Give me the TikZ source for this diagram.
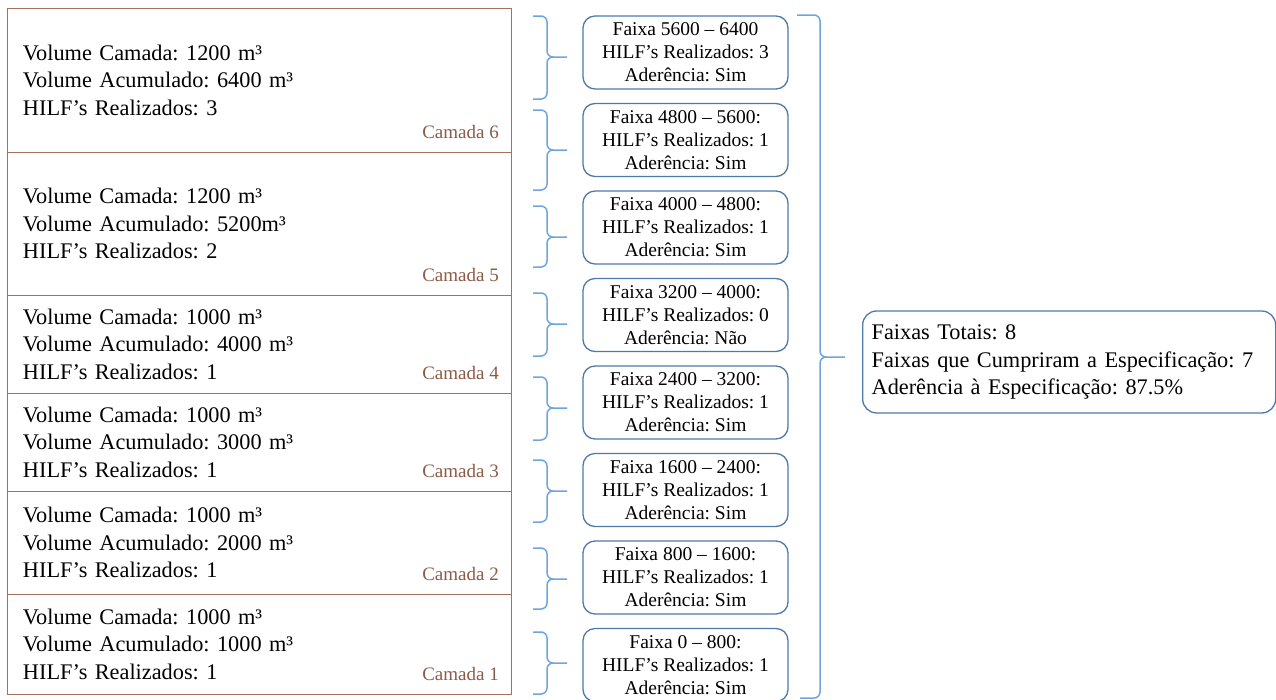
\documentclass[tikz,border=0pt]{standalone}
\usepackage{fontspec}
\setmainfont{Liberation Serif}
\usepackage{tikz}
\usetikzlibrary{positioning}
\frenchspacing
\definecolor{marrom}{RGB}{165,112,92}
\definecolor{marromtxt}{RGB}{140,90,70}
\definecolor{azulclaro}{RGB}{110,165,220}
\definecolor{azul}{RGB}{78,122,170}
\tikzset{
  Camada/.style={draw=marrom, line width=1pt, outer sep=0pt, inner xsep=16pt, inner ysep=0pt,
    text width=472pt, align=left, font=\fontsize{22.3}{27.5}\selectfont}, % Camadas links
  Rotulo/.style={text=marromtxt, inner sep=0pt, anchor=base east, font=\fontsize{19}{22}\selectfont},
  Faixa/.style={draw=azul, line width=1.3pt, rounded corners=12pt, inner sep=0pt,
    minimum width=205pt, minimum height=73pt, align=center, font=\fontsize{19.5}{23}\selectfont},
  Chave/.style={draw=azulclaro, line width=1.5pt, rounded corners=6pt}, % Klammern
  Resumo/.style={draw=azul, line width=1.3pt, rounded corners=14pt, inner xsep=9pt, inner ysep=0pt,
    text width=395pt, minimum height=102pt, align=left, font=\fontsize{22.3}{27.5}\selectfont}
}
\begin{document}
\begin{tikzpicture}[x=1pt, y=-1pt]
\useasboundingbox (0,0) rectangle (1276,699);

%Camadas
\foreach \n/\t/\b/\vc/\va/\hi in {6/8/152/1200/6400 m³/3, 5/152/295/1200/5200m³/2,
  4/295/393/1000/4000 m³/1, 3/393/491/1000/3000 m³/1, 2/491/594/1000/2000 m³/1, 1/594/694/1000/1000 m³/1}
{%
  \node[Camada, anchor=north west, minimum height={(\b-\t)*1pt}] (camada\n) at (7,\t)
    {Volume Camada: \vc{} m³\\Volume Acumulado: \va\\HILF’s Realizados: \hi};
  \node[Rotulo] (rot\n) at ([xshift=-12pt, yshift=14pt]camada\n.south east) {Camada \n};
};

%Faixas
\foreach \k/\fx/\hi/\ad in {1/5600 – 6400/3/Sim, 2/4800 – 5600:/1/Sim, 3/4000 – 4800:/1/Sim,
  4/3200 – 4000:/0/Não, 5/2400 – 3200:/1/Sim, 6/1600 – 2400:/1/Sim, 7/800 – 1600:/1/Sim, 8/0 – 800:/1/Sim}
  \node[Faixa] (faixa\k) at (685.5, {52.5+(\k-1)*87.5}) {Faixa \fx\\HILF’s Realizados: \hi\\Aderência: \ad};

%Klammern
\foreach \k/\t/\m/\b in {1/16/57/99, 2/110/150/190, 3/206/237/267, 4/293/324/356,
  5/377/408/440, 6/460/491/522, 7/548/579/609, 8/632/663/694}
  \draw[Chave] (533,\t) -| (547,\m) -- (567,\m) (567,\m) -- (547,\m) |- (533,\b);

%Resumo
\node[Resumo, anchor=west] (resumo) at (862,362)
  {Faixas Totais: 8\\Faixas que Cumpriram a Especificação: 7\\Aderência à Especificação: 87.5\%};
\coordinate[left=17pt of resumo.west] (ponta);
\draw[Chave] (797,15) -| (820,357) -- (ponta |- 0,357) (ponta |- 0,357) -- (820,357) |- (800,698);

\end{tikzpicture}
\end{document}
